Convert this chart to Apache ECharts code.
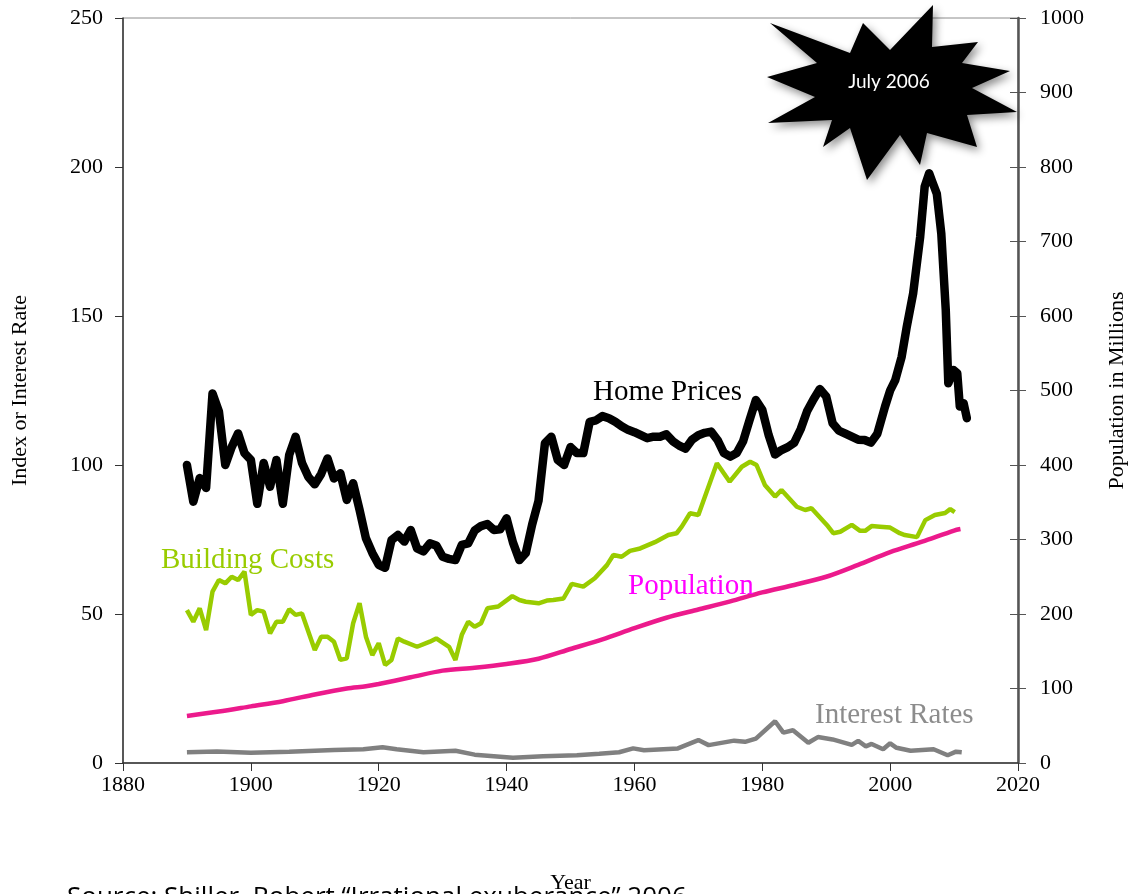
<!DOCTYPE html>
<html>
<head>
<meta charset="utf-8">
<script src="https://cdn.jsdelivr.net/npm/echarts@6/dist/echarts.min.js"></script>
<style>html,body{margin:0;padding:0;background:#fff;}#chart{width:1130px;height:894px;}</style>
</head>
<body>
<div id="chart"></div>
<script>
// ---- data ----
const xTicks = [1880, 1900, 1920, 1940, 1960, 1980, 2000, 2020];
const leftTicks = [0, 50, 100, 150, 200, 250];
const rightTicks = [0, 100, 200, 300, 400, 500, 600, 700, 800, 900, 1000];

const homePriceYears = [1890,1891,1892,1893,1894,1895,1896,1897,1898,1899,1900,1901,1902,1903,1904,1905,1906,1907,1908,1909,1910,1911,1912,1913,1914,1915,1916,1917,1918,1919,1920,1921,1922,1923,1924,1925,1926,1927,1928,1929,1930,1931,1932,1933,1934,1935,1936,1937,1938,1939,1940,1941,1942,1943,1944,1945,1946,1947,1948,1949,1950,1951,1952,1953,1954,1955,1956,1957,1958,1959,1960,1961,1962,1963,1964,1965,1966,1967,1968,1969,1970,1971,1972,1973,1974,1975,1976,1977,1978,1979,1980,1981,1982,1983,1984,1985,1986,1987,1988,1989,1990,1991,1992,1993,1994,1995,1996,1997,1998,1999.2,2000,2000.8,2001.8,2002.6,2003.6,2004.7,2005.4,2006.1,2006.6,2007.3,2008,2008.7,2009.1,2009.9,2010.5,2010.9,2011.5,2012];
const homePrices = [100,87.7,95.6,92.3,124,118,100,106,110.6,104,101.7,87,100.7,92.7,101.7,87,103.4,109.5,100.7,96,93.5,97,102.2,95.5,97.2,88.3,93.9,85,75.4,70.5,66.5,65.5,74.8,76.5,74.3,78.2,72,71,73.7,73,69.2,68.5,68.1,73.2,73.7,78,79.5,80.2,78.2,78.4,82.1,74,68.1,70.4,80,88,107.3,109.5,101.7,100,106,104,104,114.5,115,116.4,115.7,114.5,113,111.8,111,110,109,109.5,109.5,110.3,108,106.5,105.5,108.5,110,110.8,111.2,108.4,104,102.8,104,108,115,121.8,118.5,110,103.5,105,106,107.5,112,118,122,125.5,123,114,111.5,110.5,109.5,108.5,108.4,107.5,110.5,119.6,125,128.5,136.3,146.4,157.6,176.6,193.4,197.9,195,191,177.7,152,127.4,131.9,130.8,119.6,120.7,115.7];

const buildYears = [1890,1891,1892,1893,1894,1895,1896,1897,1898,1899,1900,1901,1902,1903,1904,1905,1906,1907,1908,1910,1911,1912,1913,1914,1915,1916,1917,1918,1919,1920,1921,1922,1923,1924,1926,1928,1929,1931,1932,1933,1934,1935,1936,1937,1938.7,1940.9,1942,1943,1945,1946.3,1947.3,1948.9,1950.2,1952,1953.8,1955.7,1956.7,1958,1959.3,1960.9,1963.2,1965.3,1966.6,1967.4,1968.7,1970,1972.9,1974.9,1976.8,1978.1,1979.1,1980.4,1982,1983,1985.4,1986.7,1987.7,1990.1,1991.1,1992.2,1994,1995.3,1996.1,1997.1,1998.4,2000,2001.5,2002.3,2004.2,2005.5,2007,2008.6,2009.4,2010.1];
const buildingCosts = [51.3,47.4,51.9,44.6,57.5,61.4,60.3,62.5,61.4,64.2,49.7,51.3,50.8,43.5,47.4,47.4,51.6,49.7,50.2,37.9,42.4,42.4,40.7,34.6,35.1,46.9,53.6,42.4,36.2,40.2,32.9,34.6,41.8,40.7,39,40.7,41.8,39,34.6,43,47.4,45.7,46.9,51.9,52.5,56,54.7,54.1,53.6,54.5,54.7,55.2,60.1,59.2,62,66.4,69.8,69.2,71.2,72,74.1,76.5,77.1,79.3,83.8,83.2,100.6,94.4,99.4,101.1,100,93.3,89.4,91.6,86,84.9,85.5,79.9,77.1,77.6,79.9,77.9,77.9,79.5,79.3,79,77.1,76.5,75.8,81.5,83.2,83.9,85.2,84.2];

const popYears = [1890,1895,1900,1905,1910,1915,1918,1920,1925,1930,1935,1940,1945,1950,1955,1960,1965,1970,1975,1980,1985,1990,1995,2000,2005,2010,2011];
const population = [63,69,76,83,92,100,103,106,115,124,128,133,140,153,166,181,195,206,217,229,239,250,266,283,297,312,314];

const rateYears = [1890,1894.7,1900,1906,1913,1917.6,1920.6,1922.8,1927,1932,1935,1941,1945.7,1951,1954.5,1957.6,1959.8,1961.5,1966.8,1970,1971.6,1975.6,1977.3,1979,1982,1983.3,1984.8,1987.2,1988.7,1991,1994,1995,1996.2,1997.1,1998.9,2000,2001,2003.2,2006.8,2009,2010.3,2011.2];
const interestRates = [3.6,3.9,3.4,3.8,4.4,4.6,5.3,4.6,3.6,4.1,2.8,1.8,2.3,2.6,3.1,3.6,4.9,4.3,4.9,7.7,6.0,7.5,7.1,8.2,14.0,10.2,11.0,6.8,8.7,7.9,6.1,7.4,5.6,6.4,4.6,6.6,5.1,4.1,4.6,2.6,3.8,3.6];

const pair = (xs, ys) => xs.map((x, i) => [x, ys[i]]);
const plain = v => String(v);

const serif = 'Liberation Serif';
const chart = echarts.init(document.getElementById('chart'), null, {renderer: 'canvas'});

// decorative burst star (not data)
const starPts = [[770,23],[850,53],[863,23],[890,50],[933,5],[932,47],[978,42],[962,63],[1010,71],[972,88],[1017,112],[967,115],[977,147],[927,133],[920,165],[900,135],[867,180],[850,128],[823,147],[832,120],[768,123],[815,97],[767,77],[817,63]];

chart.setOption({
  animation: false,
  backgroundColor: '#fff',
  grid: {left: 123, right: 112, top: 18, bottom: 131, containLabel: false, outerBoundsMode: 'none',
         show: true, borderColor: '#8c8c8c', borderWidth: 1},
  xAxis: {
    type: 'value', min: xTicks[0], max: xTicks[xTicks.length - 1], interval: 20,
    name: 'Year', nameLocation: 'middle', nameGap: 109,
    nameTextStyle: {fontFamily: serif, fontSize: 22, color: '#000'},
    axisLine: {show: true, lineStyle: {color: '#333', width: 1.5}},
    axisTick: {show: true, inside: false, length: 8, lineStyle: {color: '#333'}},
    axisLabel: {fontFamily: serif, fontSize: 22, color: '#000', margin: 11, formatter: plain},
    splitLine: {show: false}
  },
  yAxis: [
    {
      type: 'value', min: leftTicks[0], max: leftTicks[leftTicks.length - 1], interval: 50, position: 'left',
      name: 'Index or Interest Rate', nameLocation: 'middle', nameGap: 92, nameRotate: 90,
      nameTextStyle: {fontFamily: serif, fontSize: 22, color: '#000'},
      axisLine: {show: true, lineStyle: {color: '#333', width: 1.5}},
      axisTick: {show: true, inside: false, length: 8, lineStyle: {color: '#333'}},
      axisLabel: {fontFamily: serif, fontSize: 22, color: '#000', margin: 20, formatter: plain},
      splitLine: {show: false}
    },
    {
      type: 'value', min: rightTicks[0], max: rightTicks[rightTicks.length - 1], interval: 100, position: 'right',
      name: 'Population in Millions', nameLocation: 'middle', nameGap: 88, nameRotate: 90,
      nameTextStyle: {fontFamily: serif, fontSize: 22, color: '#000'},
      axisLine: {show: true, lineStyle: {color: '#555', width: 2.5}},
      axisTick: {show: true, inside: false, length: 8, lineStyle: {color: '#555'}},
      axisLabel: {fontFamily: serif, fontSize: 22, color: '#000', margin: 22, formatter: plain},
      splitLine: {show: false}
    },
    {
      type: 'value', min: rightTicks[0], max: rightTicks[rightTicks.length - 1], interval: 100, position: 'right',
      axisLine: {show: false},
      axisTick: {show: true, inside: true, length: 8, lineStyle: {color: '#555'}},
      axisLabel: {show: false},
      splitLine: {show: false}
    }
  ],
  series: [
    {type: 'line', name: 'Interest Rates', yAxisIndex: 0, data: pair(rateYears, interestRates), showSymbol: false,
     lineStyle: {color: '#808080', width: 4.5}, z: 2},
    {type: 'line', name: 'Population', yAxisIndex: 1, data: pair(popYears, population), showSymbol: false, smooth: 0.3,
     lineStyle: {color: '#ec1a8c', width: 4.5}, z: 3},
    {type: 'line', name: 'Building Costs', yAxisIndex: 0, data: pair(buildYears, buildingCosts), showSymbol: false,
     lineStyle: {color: '#99cc00', width: 4.5}, z: 4},
    {type: 'line', name: 'Home Prices', yAxisIndex: 0, data: pair(homePriceYears, homePrices), showSymbol: false,
     lineStyle: {color: '#000', width: 8.5, join: 'round', cap: 'round'}, z: 5}
  ],
  graphic: [
    {type: 'text', left: 593, top: 378, style: {text: 'Home Prices', fontFamily: serif, fontSize: 29, fill: '#000'}, z: 10},
    {type: 'text', left: 161, top: 546, style: {text: 'Building Costs', fontFamily: serif, fontSize: 29, fill: '#99cc00'}, z: 10},
    {type: 'text', left: 628, top: 572, style: {text: 'Population', fontFamily: serif, fontSize: 29, fill: '#ff00ff'}, z: 10},
    {type: 'text', left: 815, top: 701, style: {text: 'Interest Rates', fontFamily: serif, fontSize: 29, fill: '#8c8c8c'}, z: 10},
    {type: 'polygon', shape: {points: starPts}, style: {fill: '#000', shadowBlur: 8, shadowOffsetX: 3, shadowOffsetY: 4, shadowColor: 'rgba(0,0,0,0.45)'}, z: 20},
    {type: 'text', x: 889, y: 82, style: {text: 'July 2006', fontFamily: 'Lato', fontSize: 19, fill: '#fff', align: 'center', verticalAlign: 'middle'}, z: 21},
    {type: 'text', left: 67, top: 885, style: {text: 'Source: Shiller, Robert \u201cIrrational exuberance\u201d 2006', fontFamily: 'Open Sans', fontSize: 26, fill: '#000'}, z: 1}
  ]
});
</script>
</body>
</html>
